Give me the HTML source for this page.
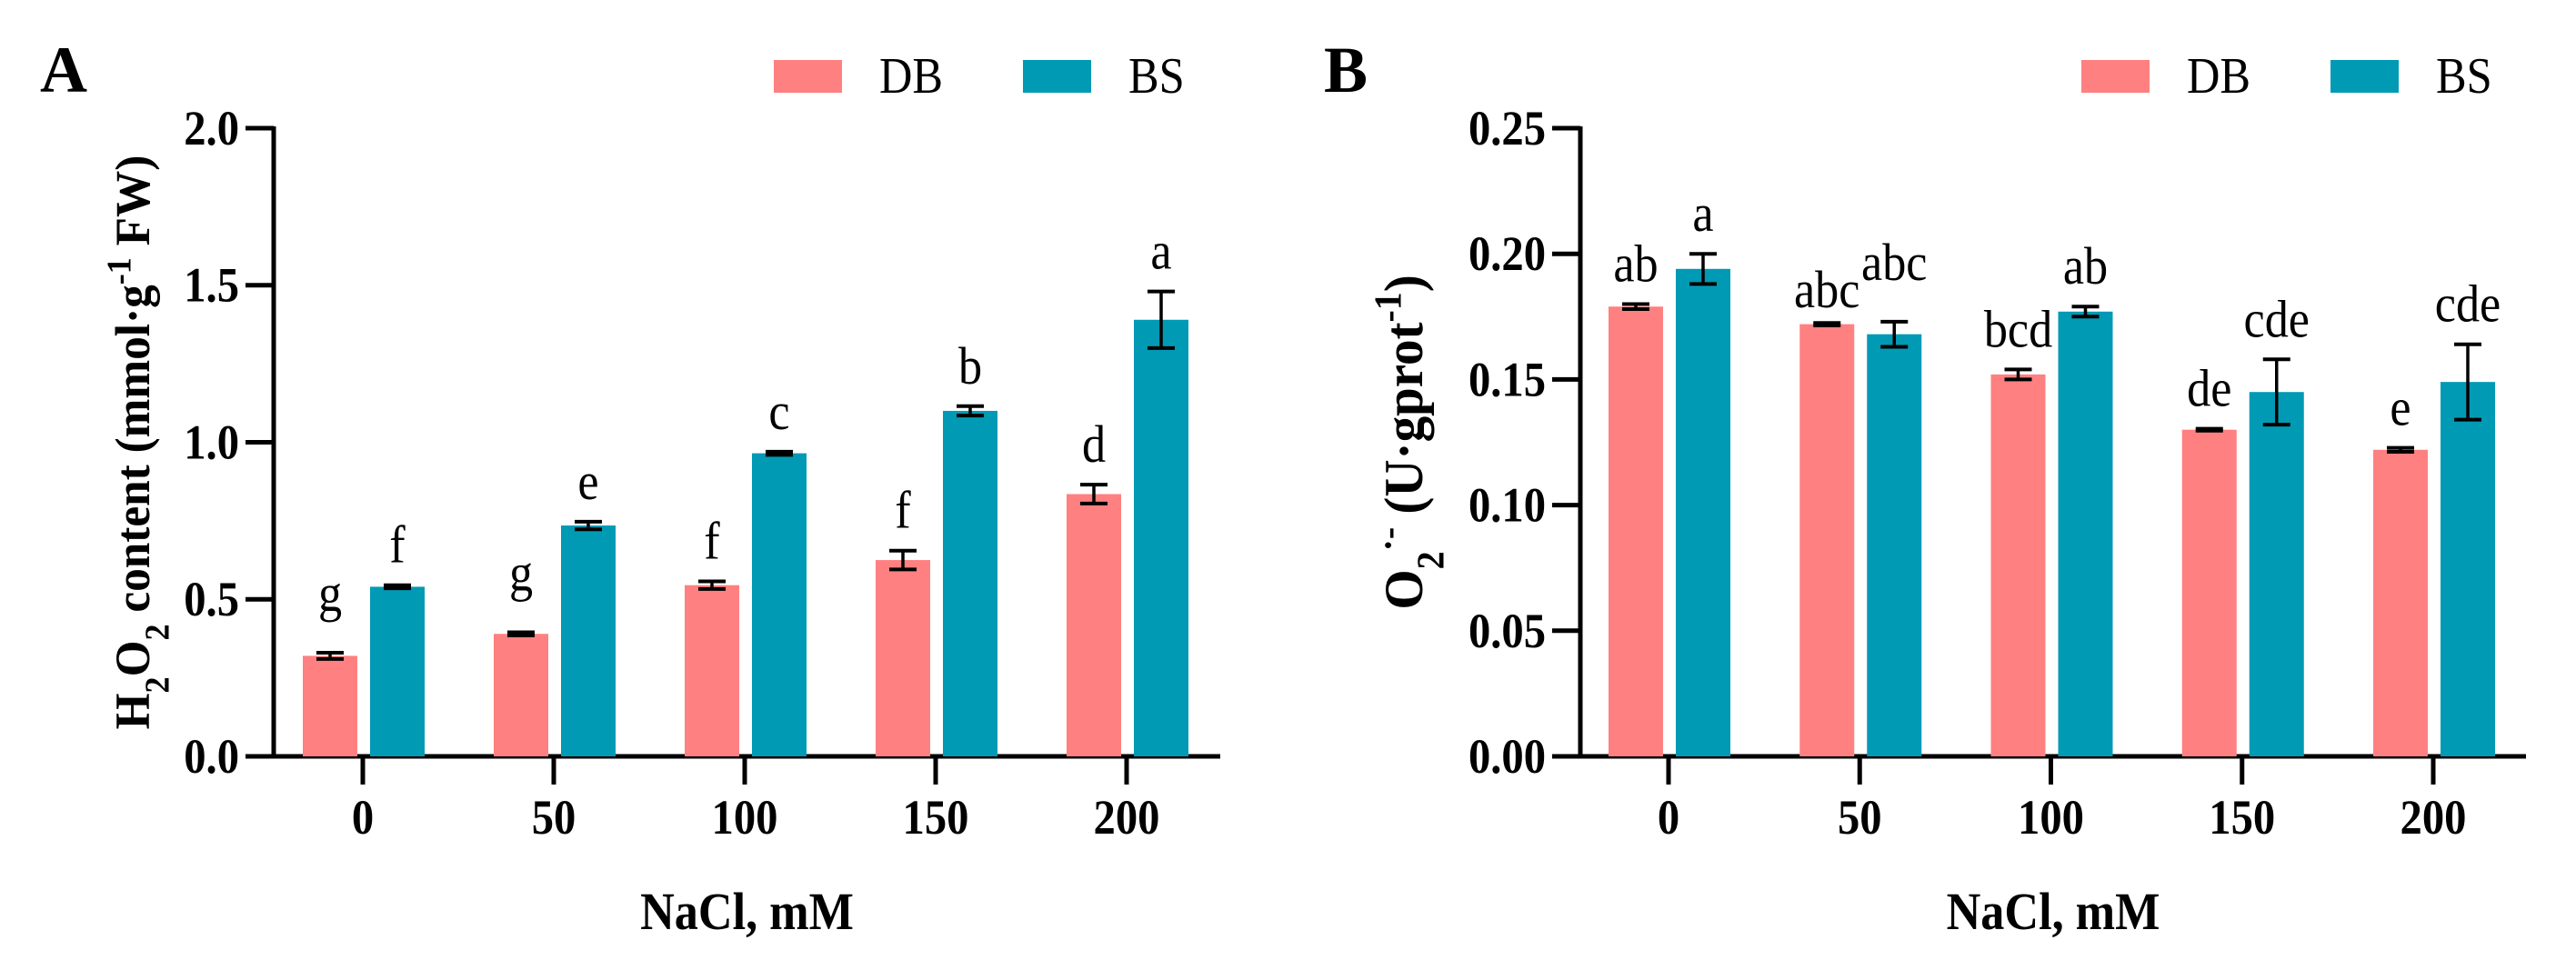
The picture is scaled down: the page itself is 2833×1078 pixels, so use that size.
<!DOCTYPE html>
<html><head><meta charset="utf-8"><style>
html,body{margin:0;padding:0;background:#fff;}
svg{display:block;font-family:"Liberation Serif",serif;}
</style></head><body>
<svg id="fig" width="2833" height="1078" viewBox="0 0 2833 1078" xmlns="http://www.w3.org/2000/svg"></svg>
<script>
const categories = ["0","50","100","150","200"];
const aDB = [0.32,0.39,0.545,0.625,0.835];
const aDBerr = [0.01,0.005,0.012,0.03,0.03];
const aBS = [0.54,0.735,0.965,1.10,1.39];
const aBSerr = [0.005,0.012,0.005,0.015,0.09];
const aDBlet = ["g","g","f","f","d"];
const aBSlet = ["f","e","c","b","a"];
const aTicks = ["0.0","0.5","1.0","1.5","2.0"];
const bDB = [0.179,0.172,0.152,0.130,0.122];
const bDBerr = [0.001,0.0005,0.002,0.0004,0.0008];
const bBS = [0.194,0.168,0.177,0.145,0.149];
const bBSerr = [0.006,0.005,0.002,0.013,0.015];
const bDBlet = ["ab","abc","bcd","de","e"];
const bBSlet = ["a","abc","ab","cde","cde"];
const bTicks = ["0.00","0.05","0.10","0.15","0.20","0.25"];

const NS="http://www.w3.org/2000/svg";
const svg=document.getElementById('fig');
function mk(tag,attrs,parent){const e=document.createElementNS(NS,tag);for(const k in attrs)e.setAttribute(k,attrs[k]);(parent||svg).appendChild(e);return e;}
const PINK="#FF8080", TEAL="#009AB4";
function sq(x){return `translate(${x},0) scale(0.9,1) translate(${-x},0)`;}

function panel(o){
  const g=mk('g',{});
  
  
  const y0=832,y1=141;
  const ys=v=>y0-(v/o.max)*(y0-y1);
  const xs=i=>o.x0+i*o.step;
  const ya=mk('line',{x1:o.ax,y1:y1-2,x2:o.ax,y2:y0+2,stroke:"#000","stroke-width":5},g);
  
  o.ticks.forEach(t=>{
    const v=parseFloat(t),y=ys(v);
    mk('line',{x1:o.ax-31,y1:y,x2:o.ax,y2:y,stroke:"#000","stroke-width":5},g);
    const tx=mk('text',{x:o.ax-38,y:y+18,"text-anchor":"end","font-size":54,"font-weight":"bold",transform:sq(o.ax-38)},g);
    tx.textContent=t;
    
  });
  const xa=mk('line',{x1:o.ax-2,y1:y0,x2:o.axEnd,y2:y0,stroke:"#000","stroke-width":5},g);
  
  categories.forEach((c,i)=>{
    const x=xs(i);
    mk('line',{x1:x,y1:y0,x2:x,y2:y0+31,stroke:"#000","stroke-width":5},g);
    const tx=mk('text',{x:x,y:917,"text-anchor":"middle","font-size":54,"font-weight":"bold",transform:sq(x)},g);
    tx.textContent=c;
    
    const tDB=ys(o.db[i]+o.dbe[i]), tBS=ys(o.bs[i]+o.bse[i]);
    const clash=o.dbl[i].length>=3 && o.bsl[i].length>=3 && Math.abs(tDB-tBS)<40;
    [[o.db,o.dbe,o.dbl,PINK,-36,'db',clash?-8:0],[o.bs,o.bse,o.bsl,TEAL,38,'bs',clash?21:0]].forEach(s=>{
      const v=s[0][i],e=s[1][i],cx=x+s[4];
      const r=mk('rect',{x:cx-30,y:ys(v),width:60,height:y0-ys(v),fill:s[3]},g);
      
      const yt=ys(v+e),yb=ys(v-e);
      mk('line',{x1:cx,y1:yt,x2:cx,y2:yb,stroke:"#000","stroke-width":3.5},g);
      mk('line',{x1:cx-15,y1:yt,x2:cx+15,y2:yt,stroke:"#000","stroke-width":4},g);
      mk('line',{x1:cx-15,y1:yb,x2:cx+15,y2:yb,stroke:"#000","stroke-width":4},g);
      const lbl=s[2][i];
      const off=(/[gpqy]/.test(lbl)?46:25)+s[6];
      const lt=mk('text',{x:cx,y:yt-off,"text-anchor":"middle","font-size":58,transform:sq(cx)},g);
      lt.textContent=lbl;
      
    });
  });
  const yt=mk('text',{transform:`translate(${o.ytx},${(y0+y1)/2}) rotate(-90) scale(0.95,1)`,"text-anchor":"middle","font-size":o.ytfs,"font-weight":"bold"},g);
  yt.innerHTML=o.ytitle;
  
  const cxT=(o.ax+o.axEnd)/2;
  const xt=mk('text',{x:cxT,y:1022,"text-anchor":"middle","font-size":58,"font-weight":"bold",transform:sq(cxT)},g);
  xt.textContent="NaCl, mM";
  
  const pl=mk('text',{x:o.lx,y:101,"font-size":72,"font-weight":"bold"},g);
  pl.textContent=o.label;
  
  [[o.legx,PINK,"DB"],[o.legx+274,TEAL,"BS"]].forEach(l=>{
    const r=mk('rect',{x:l[0],y:66,width:75,height:36,fill:l[1]},g);
    
    const t=mk('text',{x:l[0]+116,y:102,"font-size":56,transform:sq(l[0]+116)},g);
    t.textContent=l[2];
    
  });
}
panel({name:'panel-a',ax:301,axEnd:1342,x0:399,step:210,max:2.0,ticks:aTicks,db:aDB,dbe:aDBerr,dbl:aDBlet,bs:aBS,bse:aBSerr,bsl:aBSlet,ytx:164,ytfs:54,label:"A",lx:44,legx:851,
  ytitle:'H<tspan baseline-shift="sub" font-size="38">2</tspan>O<tspan baseline-shift="sub" font-size="38">2</tspan> content (mmol·g<tspan baseline-shift="super" font-size="38">-1</tspan> FW)'});
panel({name:'panel-b',ax:1738,axEnd:2778,x0:1835,step:210.25,max:0.25,ticks:bTicks,db:bDB,dbe:bDBerr,dbl:bDBlet,bs:bBS,bse:bBSerr,bsl:bBSlet,ytx:1564,ytfs:60,label:"B",lx:1456,legx:2289,
  ytitle:'O<tspan baseline-shift="sub" font-size="42">2</tspan><tspan baseline-shift="super" font-size="42">·-</tspan> (U·gprot<tspan baseline-shift="super" font-size="42">-1</tspan>)'});
</script>
</body></html>
